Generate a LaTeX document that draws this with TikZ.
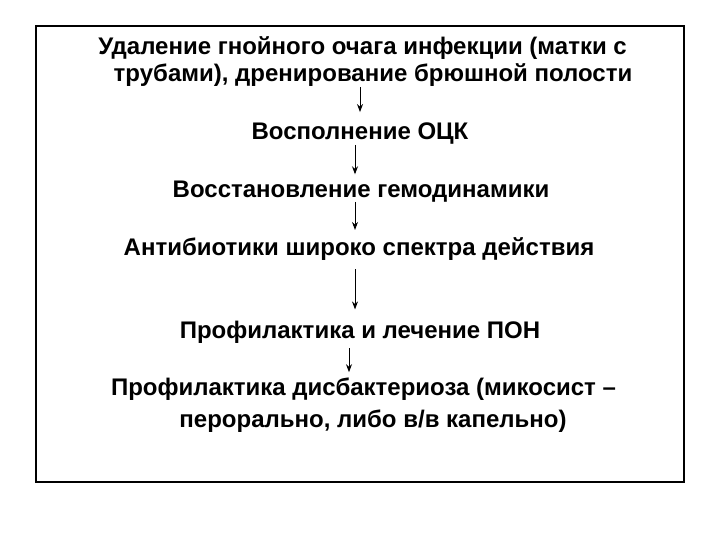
\documentclass[tikz,border=0pt]{standalone}
\usepackage{fontspec}
\setmainfont{Liberation Sans}
\usepackage{tikz}
\usetikzlibrary{arrows.meta}

\begin{document}
\begin{tikzpicture}[x = 1pt, y = -1pt,
    every node/.style = { align = center, inner sep = 0pt, anchor = base,
      font = \fontsize{24}{27}\selectfont\bfseries },
    arr/.style = { -{Stealth[length = 8pt, width = 6pt]}, line width = .9pt }]
  \useasboundingbox (0,0) rectangle (720,540);
  \draw[line width = 1.3pt] (36,26) rectangle (684,482);

  % last line sits on the given baseline
  \node (udal) at (362.5,82) {Удаление гнойного очага инфекции (матки с \\
    \hspace*{21pt}трубами), дренирование брюшной полости};
  \node (ock) at (360,140) {Восполнение ОЦК};
  \node (gemo) at (361,197) {Восстановление гемодинамики};
  \node (anti) at (359,255) {Антибиотики широко спектра действия};
  \node (pon) at (360,338) {Профилактика и лечение ПОН};
  \node (disb) at (363.5,427) {Профилактика дисбактериоза (микосист --\\[5pt]
    \hspace*{19pt}перорально, либо в/в капельно)};

  \draw[arr, shorten > = 11pt] (udal.south -| 360,0) -- (ock.north -| 360,0);
  \draw[arr, shorten > = 6pt] (ock.south -| 355,0) -- (gemo.north -| 355,0);
  \draw[arr, shorten > = 7pt] (gemo.south -| 355,0) -- (anti.north -| 355,0);
  \draw[arr, shorten < = 9pt, shorten > = 11pt] (anti.south -| 355,0) -- (pon.north -| 355,0);
  \draw[arr, shorten < = 5pt, shorten > = 5pt] (pon.south -| 349,0) -- (disb.north -| 349,0);
\end{tikzpicture}
\end{document}
